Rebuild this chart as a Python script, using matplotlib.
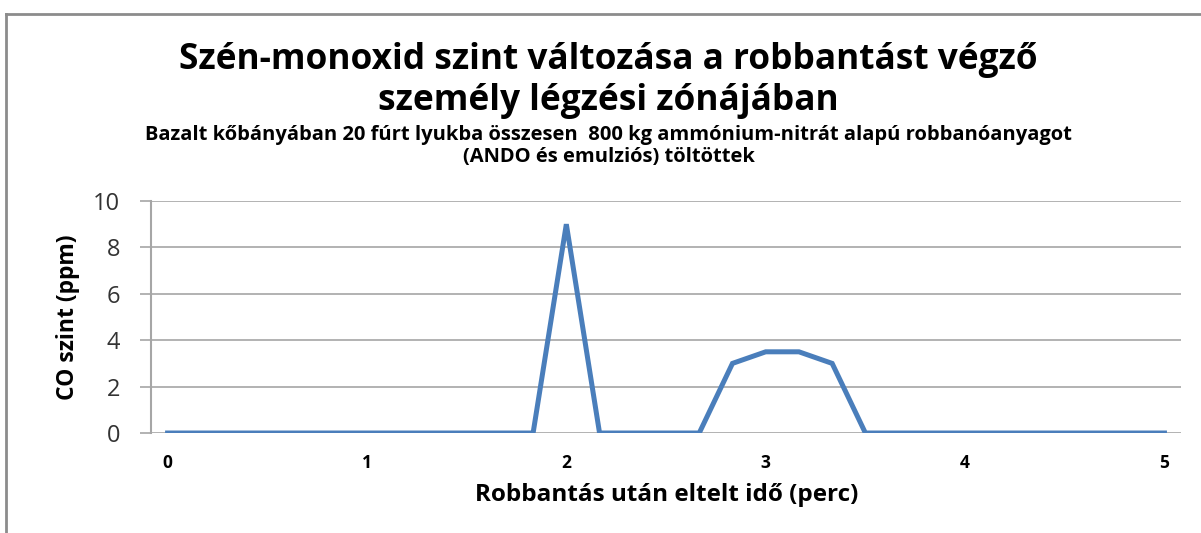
import matplotlib
matplotlib.use('Agg')
import matplotlib.pyplot as plt
from matplotlib.lines import Line2D

# Adatok: mérési időpontok (másodperc) és CO szint (ppm)
seconds = [0, 10, 20, 30, 40, 50, 60, 70, 80, 90, 100, 110, 120, 130, 140, 150,
           160, 170, 180, 190, 200, 210, 220, 230, 240, 250, 260, 270, 280, 290, 300]
co_ppm = [0, 0, 0, 0, 0, 0, 0, 0, 0, 0, 0, 0, 9, 0, 0, 0,
          0, 3, 3.5, 3.5, 3, 0, 0, 0, 0, 0, 0, 0, 0, 0, 0]
x_ticks = [0, 1, 2, 3, 4, 5]
y_ticks = [0, 2, 4, 6, 8, 10]

minutes = [s / 60 for s in seconds]

plt.rcParams['font.family'] = ['Open Sans', 'DejaVu Sans']

fig = plt.figure(figsize=(12.01, 5.33), dpi=100)
ax = fig.add_axes([0.1257, 0.1876, 0.8577, 0.4353])

ax.plot(minutes, co_ppm, color='#4a7ebb', linewidth=3.6, solid_joinstyle='miter')

ax.set_xlim(-1 / 12, 5 + 1 / 12)
ax.set_ylim(0, 10)
ax.set_xticks(x_ticks)
ax.set_yticks(y_ticks)
ax.grid(axis='y', color='#a6a6a6', linewidth=1.2)
ax.set_axisbelow(True)

for side in ['top', 'right', 'bottom']:
    ax.spines[side].set_visible(False)
ax.spines['left'].set_color('#a6a6a6')
ax.spines['left'].set_linewidth(1.5)

ax.tick_params(axis='y', length=8, color='#a6a6a6', width=1.2, labelsize=17,
               labelcolor='#333333', pad=14)
ax.tick_params(axis='x', length=0, labelsize=12.5, pad=15)
for lbl in ax.get_xticklabels():
    lbl.set_fontweight('bold')

ax.set_ylabel('CO szint (ppm)', fontsize=16.5, fontweight='bold')
ax.yaxis.set_label_coords(-0.069, 0.5)
ax.set_xlabel('Robbantás után eltelt idő (perc)', fontsize=17.5, fontweight='bold')
ax.xaxis.set_label_coords(0.501, -0.215)

fig.text(0.5067, 0.849, 'Szén-monoxid szint változása a robbantást végző\nszemély légzési zónájában',
         ha='center', va='center', fontsize=25.4, fontweight='bold', linespacing=1.22)
fig.text(0.507, 0.726, 'Bazalt kőbányában 20 fúrt lyukba összesen  800 kg ammónium-nitrát alapú robbanóanyagot\n'
         '(ANDO és emulziós) töltöttek',
         ha='center', va='center', fontsize=14.5, fontweight='bold', linespacing=1.1)

# keret
fig.add_artist(Line2D([0.005, 1.0], [0.974, 0.974], transform=fig.transFigure,
                      color='#8c8c8c', linewidth=2))
fig.add_artist(Line2D([0.005, 0.005], [0.0, 0.974], transform=fig.transFigure,
                      color='#8c8c8c', linewidth=2))

fig.savefig('out.png', dpi=100)
